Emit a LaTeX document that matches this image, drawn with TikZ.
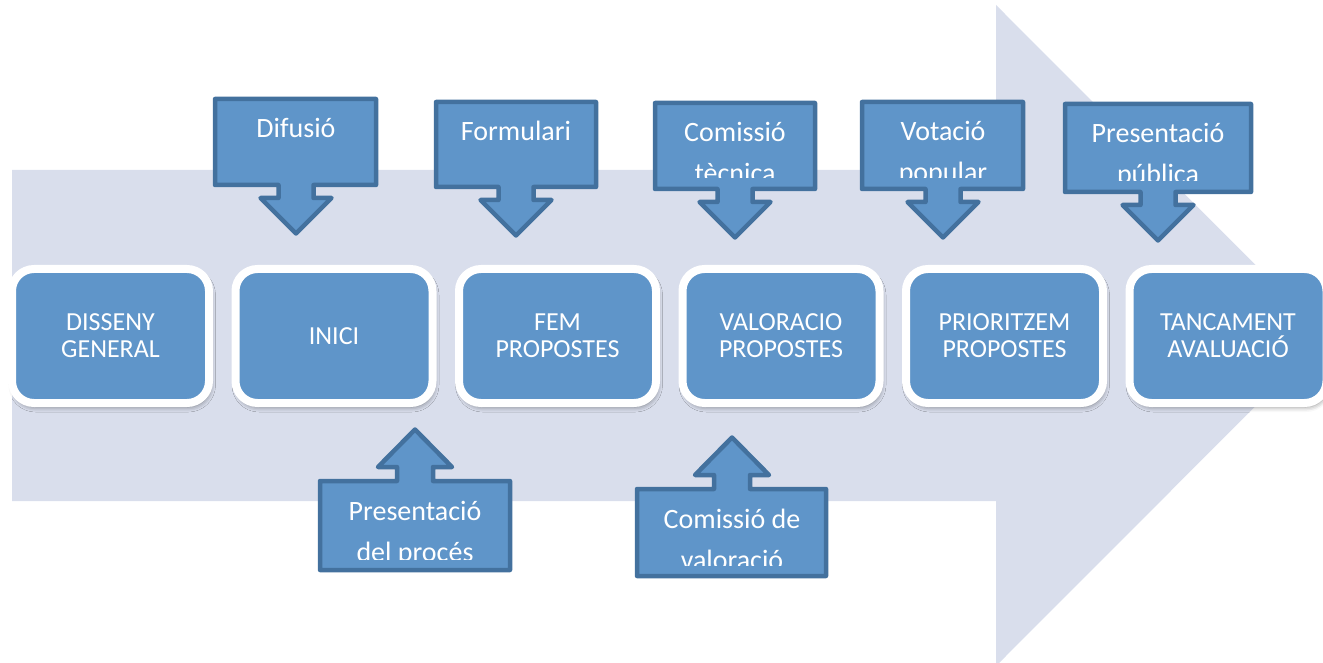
\documentclass[tikz,border=0pt]{standalone}
\usepackage{fontspec}
\setmainfont{Carlito}
\usetikzlibrary{shadows.blur}
\definecolor{arrowbg}{HTML}{D9DEEC}
\definecolor{boxblue}{HTML}{5F95C9}
\definecolor{borderblue}{HTML}{43719E}
\newcommand\procfont{\fontsize{26}{27}\selectfont\lineskiplimit=-100pt\relax\lineskip=0pt\relax}
\tikzset{
  callout/.style={fill=boxblue, draw=borderblue, line width=4.5pt, line join=round},
  ctext/.style={anchor=base, inner sep=0pt, text=white, font=\fontsize{28}{41}\selectfont},
  procbox/.style={rectangle, rounded corners=22pt, minimum width=197pt, minimum height=134pt,
     fill=boxblue, draw=white, line width=8pt, inner sep=0pt,
     blur shadow={shadow xshift=1.5pt, shadow yshift=-4pt, shadow blur radius=5pt, shadow opacity=45}},
  ptext/.style={inner sep=0pt, text=white, align=center, font=\procfont}
}
% #1 name, #2 cx, #3 L, #4 R, #5 T, #6 B, #7 line1, #8 line2
\newcommand\calldown[8]{%
  \pgfmathsetmacro\sL{#2-17.5}\pgfmathsetmacro\sR{#2+17.5}%
  \pgfmathsetmacro\hL{#2-35.5}\pgfmathsetmacro\hR{#2+35.5}%
  \pgfmathsetmacro\hY{#6+13}\pgfmathsetmacro\tY{#6+48.5}%
  \draw[callout] (#3,#5) -- (#4,#5) -- (#4,#6) -- (\sR,#6) -- (\sR,\hY) -- (\hR,\hY)
     -- (#2,\tY) coordinate (#1-tip) -- (\hL,\hY) -- (\sL,\hY) -- (\sL,#6) -- (#3,#6) -- cycle;
  \begin{scope}
    \clip (#3,#5) rectangle ({#4},{#6-11});
    \node[ctext] (#1) at ({#2},{#5+39}) {#7};
    \if\relax\detokenize{#8}\relax\else\node[ctext] (#1-2) at ({#2},{#5+80}) {#8};\fi
  \end{scope}}
\newcommand\callup[8]{%
  \pgfmathsetmacro\sL{#2-18}\pgfmathsetmacro\sR{#2+18}%
  \pgfmathsetmacro\hL{#2-37}\pgfmathsetmacro\hR{#2+37}%
  \pgfmathsetmacro\hY{#5-14}\pgfmathsetmacro\tY{#5-51.5}%
  \draw[callout] (#3,#6) -- (#3,#5) -- (\sL,#5) -- (\sL,\hY) -- (\hL,\hY)
     -- (#2,\tY) coordinate (#1-tip) -- (\hR,\hY) -- (\sR,\hY) -- (\sR,#5) -- (#4,#5) -- (#4,#6) -- cycle;
  \begin{scope}
    \clip (#3,#5) rectangle ({#4},{#6-11});
    \node[ctext] (#1) at ({#2},{#5+39}) {#7};
    \if\relax\detokenize{#8}\relax\else\node[ctext] (#1-2) at ({#2},{#5+80}) {#8};\fi
  \end{scope}}
\begin{document}
\begin{tikzpicture}[x=1pt,y=-1pt]
\useasboundingbox (0,0) rectangle (1323,663);
\clip (0,0) rectangle (1323,663);
% big background arrow
\fill[arrowbg] (12,170) -- (996,170) -- (996,5) -- (1326,335.5) -- (996,666) -- (996,501) -- (12,501) -- cycle;
% process boxes
\node[procbox] (b1) at (110.5,336) {};
\node[procbox] (b2) at (334,336) {};
\node[procbox] (b3) at (557.5,336) {};
\node[procbox] (b4) at (781,336) {};
\node[procbox] (b5) at (1004.5,336) {};
\node[procbox] (b6) at (1228,336) {};
\node[ptext] (t1) at ([yshift=-3pt]b1.center) {\strut DISSENY\\\strut GENERAL};
\node[ptext] (t2) at ([yshift=-3pt]b2.center) {\strut INICI};
\node[ptext] (t3) at ([yshift=-3pt]b3.center) {\strut FEM\\\strut PROPOSTES};
\node[ptext] (t4) at ([yshift=-3pt]b4.center) {\strut VALORACIO\\\strut PROPOSTES};
\node[ptext] (t5) at ([yshift=-3pt]b5.center) {\strut PRIORITZEM\\\strut PROPOSTES};
\node[ptext] (t6) at ([yshift=-3pt]b6.center) {\strut TANCAMENT\\\strut AVALUACIÓ};
% top callouts
\calldown{dif}{296}{215}{376}{99}{185}{Difusió}{}
\calldown{form}{516}{436}{596}{102}{187}{Formulari}{}
\calldown{ctec}{735}{655}{815}{103}{189}{Comissió}{tècnica}
\calldown{vot}{943}{862}{1023}{102}{189}{Votació}{popular}
\calldown{ppub}{1158}{1065}{1251}{104}{192}{Presentació}{pública}
% bottom callouts
\callup{pproc}{415}{320}{510}{481}{570}{Presentació}{del procés}
\callup{cval}{732}{637}{826}{489}{576}{Comissió de}{valoració}
\end{tikzpicture}
\end{document}
